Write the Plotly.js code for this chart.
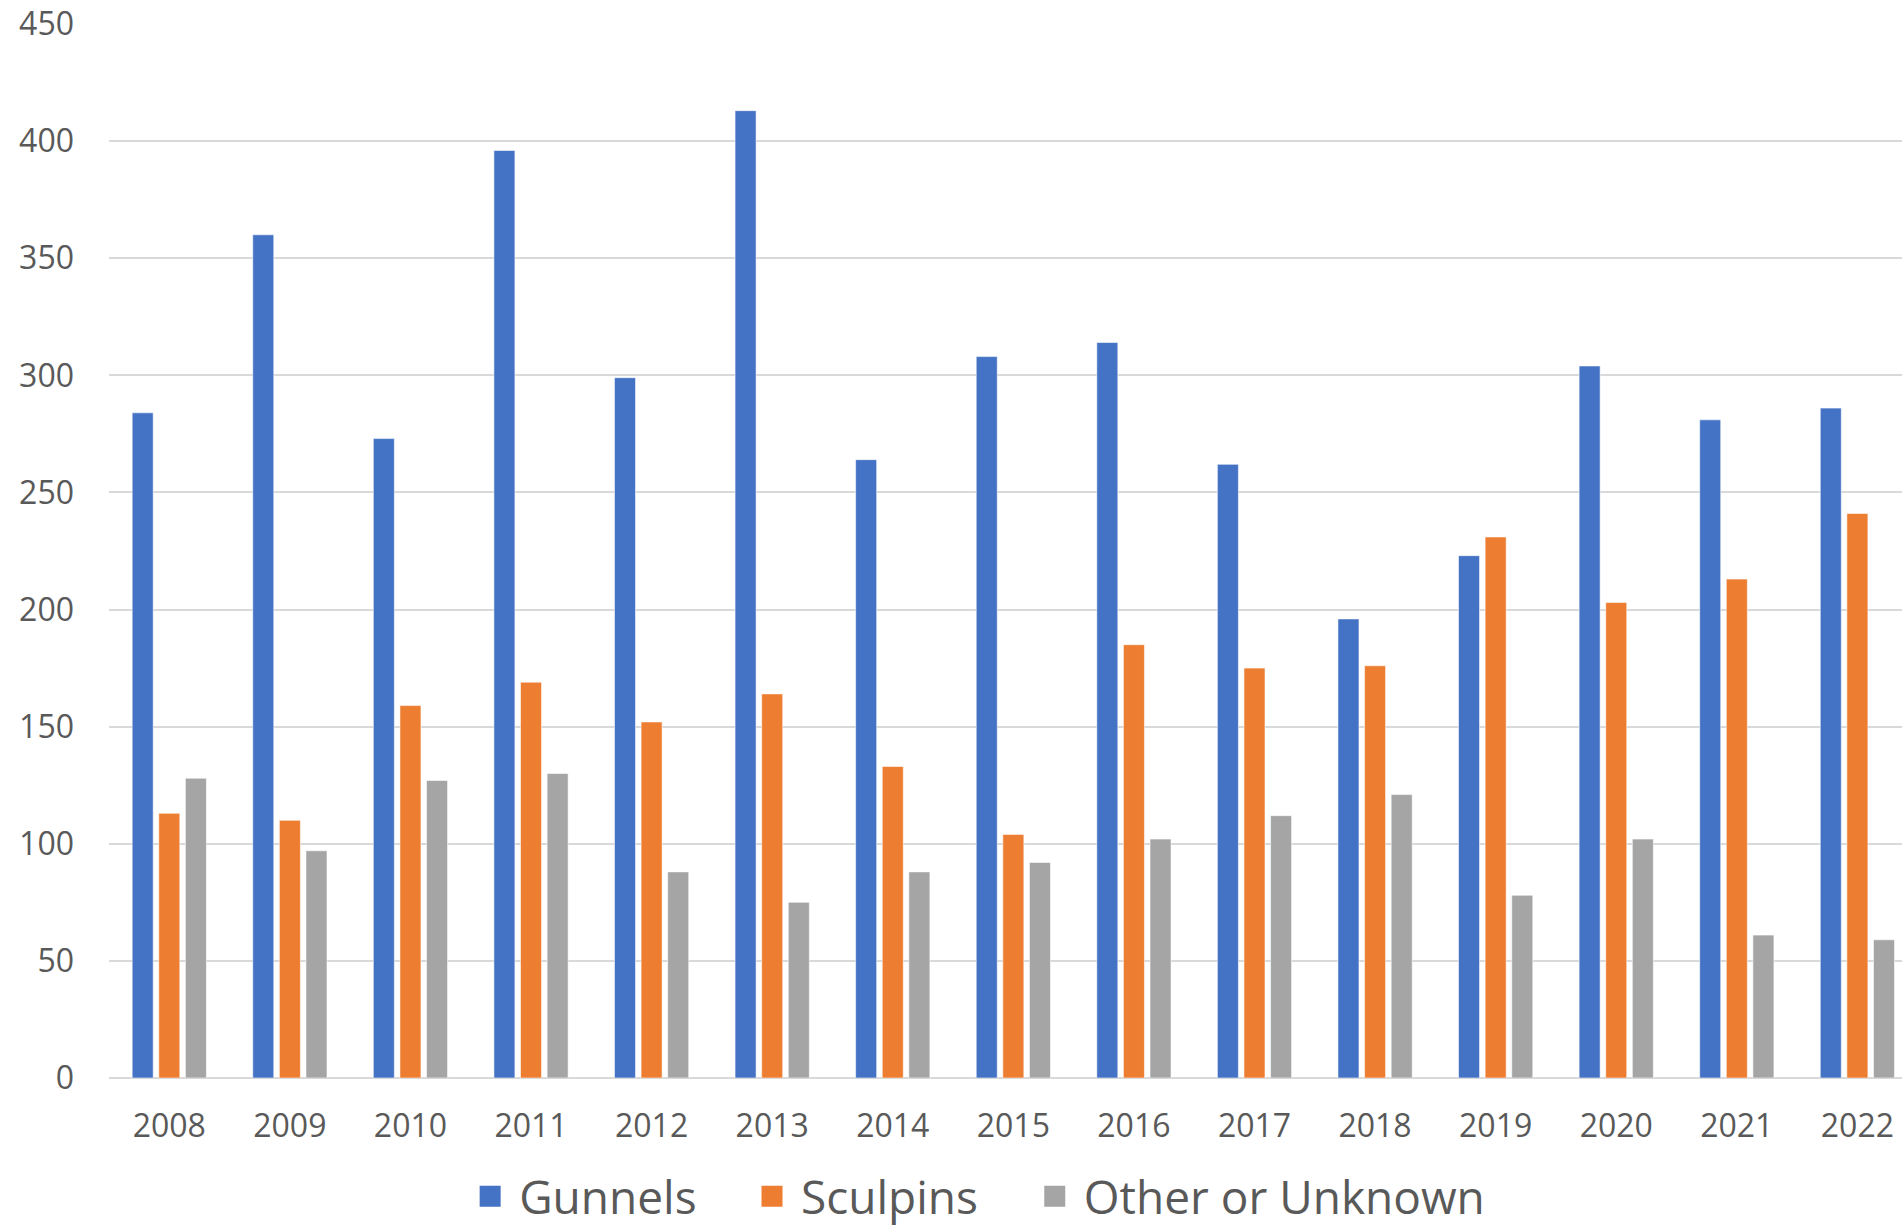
<!DOCTYPE html>
<html>
<head>
<meta charset="utf-8">
<script src="https://cdn.plot.ly/plotly-3.0.1.min.js"></script>
<style>
  html, body { margin: 0; padding: 0; background: #ffffff; }
  #chart { width: 1902px; height: 1229px; }
</style>
</head>
<body>
<div id="chart"></div>
<script>
const years = ["2008","2009","2010","2011","2012","2013","2014","2015","2016","2017","2018","2019","2020","2021","2022"];
const gunnels = [284, 360, 273, 396, 299, 413, 264, 308, 314, 262, 196, 223, 304, 281, 286];
const sculpins = [113, 110, 159, 169, 152, 164, 133, 104, 185, 175, 176, 231, 203, 213, 241];
const otherUnknown = [128, 97, 127, 130, 88, 75, 88, 92, 102, 112, 121, 78, 102, 61, 59];
const seriesNames = ["Gunnels", "Sculpins", "Other or Unknown"];
const seriesColors = ["#4472C4", "#ED7D31", "#A5A5A5"];
const yTicks = [0, 50, 100, 150, 200, 250, 300, 350, 400, 450];

const seriesValues = [gunnels, sculpins, otherUnknown];
const legendIds = ["legend", "legend2", "legend3"];
const traces = [];
seriesValues.forEach((vals, i) => {
  traces.push({
    type: "bar",
    name: seriesNames[i],
    x: years,
    y: vals,
    marker: { color: seriesColors[i], line: { color: "rgba(255,255,255,0.7)", width: 0.8 } },
    showlegend: false,
    hoverinfo: "x+y+name"
  });
});
// legend entries (larger square keys)
seriesValues.forEach((vals, i) => {
  traces.push({
    type: "scatter",
    mode: "markers",
    name: seriesNames[i],
    x: [null],
    y: [null],
    legend: legendIds[i],
    marker: { symbol: "square", size: 16, color: seriesColors[i], line: { color: seriesColors[i], width: 5 } },
    showlegend: true,
    hoverinfo: "skip"
  });
});

const fontFam = "'Open Sans', 'Noto Sans', sans-serif";
const legendX = [0.1964, 0.3536, 0.5113];
function makeLegend(x) {
  return {
    orientation: "h",
    x: x,
    xanchor: "left",
    y: -0.1122,
    yanchor: "middle",
    itemwidth: 48,
    font: { family: fontFam, size: 46, color: "#595959" },
    itemclick: false,
    itemdoubleclick: false,
    bgcolor: "rgba(0,0,0,0)"
  };
}
const layout = {
  width: 1902,
  height: 1229,
  margin: { l: 108.5, r: 0, t: 23.7, b: 151.3, pad: 0, autoexpand: false },
  paper_bgcolor: "#ffffff",
  plot_bgcolor: "#ffffff",
  barmode: "group",
  bargap: 0.338,
  bargroupgap: 0.21,
  font: { family: fontFam, color: "#595959", size: 32 },
  xaxis: {
    type: "category",
    range: [-0.5, 14.37],
    showgrid: false,
    zeroline: false,
    showline: false,
    ticks: "",
    tickfont: { family: fontFam, size: 32, color: "#595959" },
    ticklabelstandoff: 26,
    fixedrange: true
  },
  yaxis: {
    range: [0, 450],
    tickvals: yTicks,
    ticktext: yTicks.map(String),
    showgrid: true,
    gridcolor: "#d9d9d9",
    gridwidth: 2,
    zeroline: true,
    zerolinecolor: "#d9d9d9",
    zerolinewidth: 2,
    showline: false,
    ticks: "",
    tickfont: { family: fontFam, size: 32, color: "#595959" },
    ticklabelstandoff: 34,
    fixedrange: true
  },
  legend: makeLegend(legendX[0]),
  legend2: makeLegend(legendX[1]),
  legend3: makeLegend(legendX[2]),
  showlegend: true
};

Plotly.newPlot("chart", traces, layout, { displayModeBar: false, staticPlot: true });
</script>
</body>
</html>
